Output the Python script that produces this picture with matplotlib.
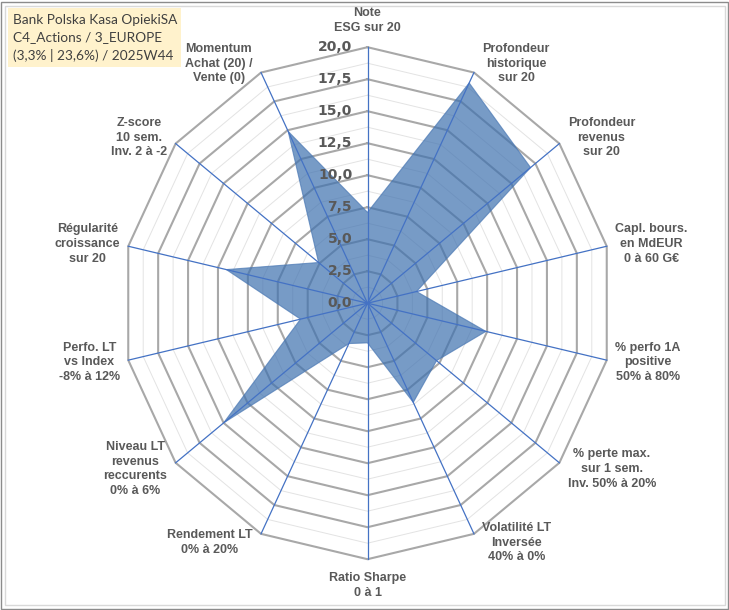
import numpy as np
import matplotlib.pyplot as plt
from matplotlib.patches import Rectangle, Polygon

# axes labels (clockwise from top) and scores out of 20
criteres = ["Note\nESG sur 20",
            "Profondeur\nhistorique\nsur 20",
            "Profondeur\nrevenus\nsur 20",
            "Capl. bours.\nen MdEUR\n0 à 60 G€",
            "% perfo 1A\npositive\n50% à 80%",
            "% perte max.\nsur 1 sem.\nInv. 50% à 20%",
            "Volatilité LT\nInversée\n40% à 0%",
            "Ratio Sharpe\n0 à 1",
            "Rendement LT\n0% à 20%",
            "Niveau LT\nrevenus\nreccurents\n0% à 6%",
            "Perfo. LT\nvs Index\n-8% à 12%",
            "Régularité\ncroissance\nsur 20",
            "Z-score\n10 sem.\nInv. 2 à -2",
            "Momentum\nAchat (20) /\nVente (0)"]
notes = [7.1, 19.1, 17.0, 4.1, 9.9, 7.2, 8.6, 3.1, 3.5, 15.0, 5.6, 11.8, 5.1, 14.9]
graduations = [0, 2.5, 5, 7.5, 10, 12.5, 15, 17.5, 20]
titre = "Bank Polska Kasa OpiekiSA\nC4_Actions / 3_EUROPE\n(3,3% | 23,6%) / 2025W44"

gris = "#595959"
n = len(criteres)
ang = np.pi/2 - np.arange(n)*2*np.pi/n
cx, cy = np.cos(ang), np.sin(ang)

W, H = 729, 610
fig = plt.figure(figsize=(W/100, H/100), dpi=100)
ax = fig.add_axes([0, 0, 1, 1])
sx, sy = 12.27, 12.8   # px par unité
ox, oy = 367.5, 303.2  # centre en px (depuis le haut)
ax.set_xlim(-ox/sx, (W-ox)/sx)
ax.set_ylim(-(H-oy)/sy, oy/sy)
ax.axis("off")

def ferme(a):
	return np.append(a, a[0])

# grille polygonale
for r in np.arange(1.25, 20, 2.5):
	ax.plot(ferme(r*cx), ferme(r*cy), color="#E3E3E3", lw=0.7, zorder=1)
for r in graduations[1:]:
	ax.plot(ferme(r*cx), ferme(r*cy), color="#A8A8A8", lw=1.5, zorder=2)

# surface
v = np.array(notes)
ax.add_patch(Polygon(np.column_stack([v*cx, v*cy]), closed=True,
	facecolor="#3E71AF", alpha=0.7, edgecolor="#4A78B4", lw=0.8, zorder=3))

# rayons
for i in range(n):
	ax.plot([0, 20*cx[i]], [0, 20*cy[i]], color="#4472C4", lw=0.9, zorder=4)

# graduations
for g in graduations:
	ax.annotate(("%.1f" % g).replace(".", ","), xy=(0, g), xytext=(-11, 0),
		textcoords="offset points", ha="right", va="center",
		fontsize=10, fontweight="bold", color=gris, zorder=5)

# libellés
for i, lab in enumerate(criteres):
	x, y = 20*cx[i], 20*cy[i]
	if abs(cx[i]) < 0.1:
		va = "bottom" if cy[i] > 0 else "top"
		ax.annotate(lab, xy=(x, y), xytext=(0, 9.5*np.sign(cy[i])),
			textcoords="offset points", ha="center", va=va, fontsize=9,
			fontweight="bold", color=gris, linespacing=1.3,
			family="Liberation Sans", multialignment="center")
	else:
		ha = "left" if cx[i] > 0 else "right"
		ax.annotate(lab, xy=(x, y), xytext=(6*np.sign(cx[i]), 7*cy[i]),
			textcoords="offset points", ha=ha, va="center", fontsize=9,
			fontweight="bold", color=gris, linespacing=1.3,
			family="Liberation Sans", multialignment="center")

# cartouche titre
fig.patches.append(Rectangle((8/W, 1-67/H), 173/W, 59/H, transform=fig.transFigure,
	facecolor="#FFF2CC", edgecolor="none"))
fig.text(13/W, 1-38/H, titre, ha="left", va="center", fontsize=9.8, color="#404040",
	family="Lato", linespacing=1.55)

# cadres
fig.patches.append(Rectangle((4.5/W, 5.5/H), 720/W, 599/H, transform=fig.transFigure,
	fill=False, edgecolor="#D9D9D9", lw=1))
fig.patches.append(Rectangle((1/W, 1.5/H), 727/W, 607/H, transform=fig.transFigure,
	fill=False, edgecolor="#8C8C8C", lw=1))

fig.savefig("out.png", dpi=100)
